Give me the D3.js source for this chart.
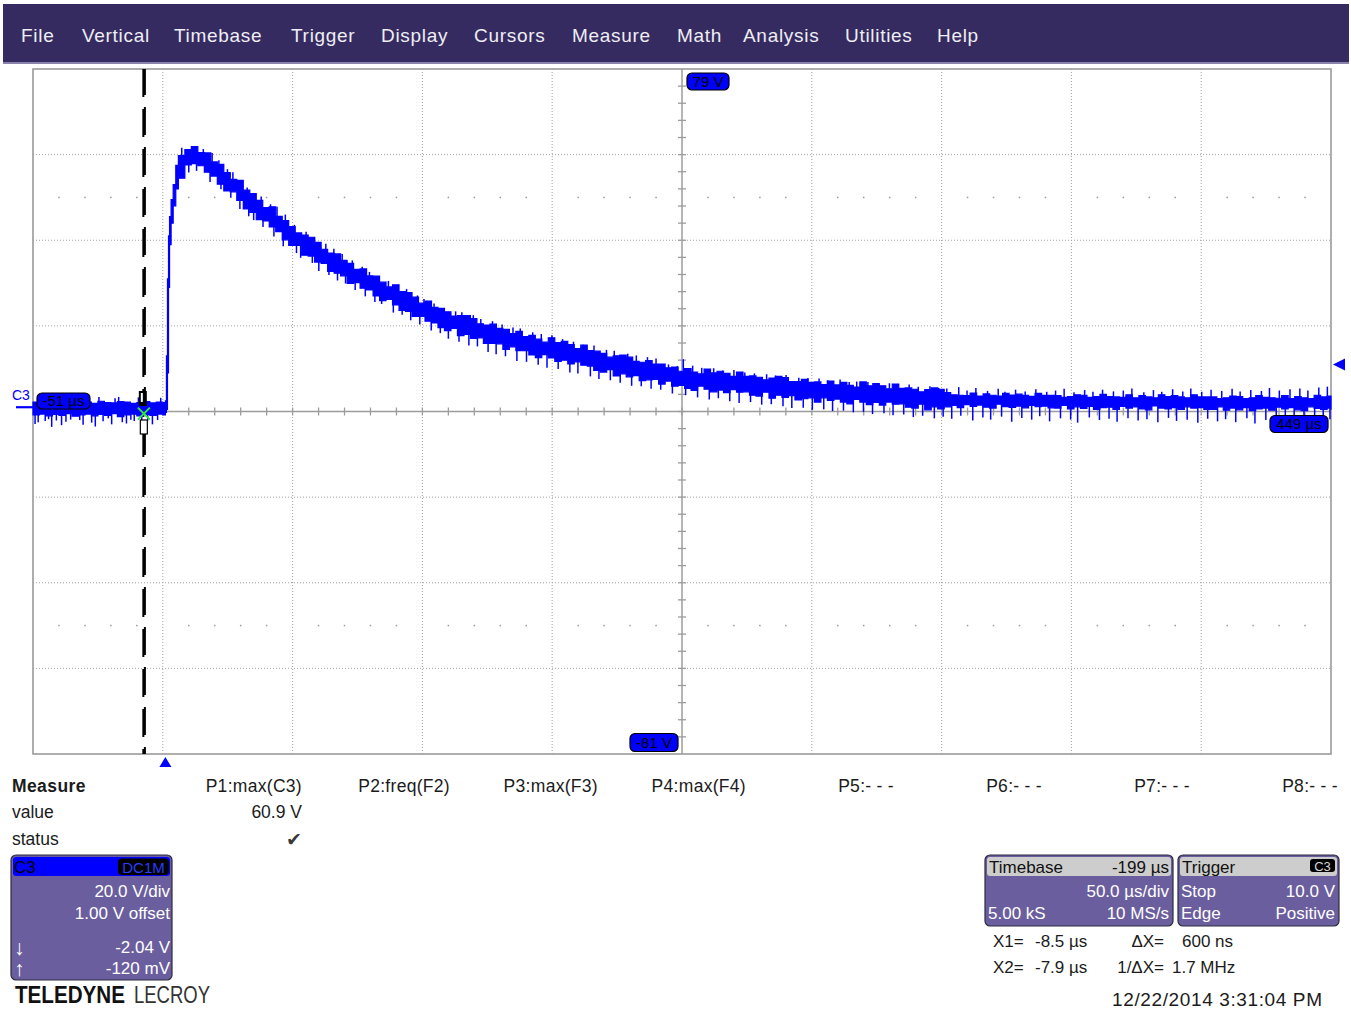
<!DOCTYPE html>
<html>
<head>
<meta charset="utf-8">
<script src="https://cdn.jsdelivr.net/npm/d3@7"></script>
<style>
  body { margin: 0; background: #fff; }
  svg { display: block; }
  text { font-family: "Liberation Sans", Arial, sans-serif; }
</style>
</head>
<body>
<svg id="scope" width="1351" height="1011"></svg>
<script>
// ---------------- data ----------------
const menuItems = ["File", "Vertical", "Timebase", "Trigger", "Display", "Cursors",
                   "Measure", "Math", "Analysis", "Utilities", "Help"];

const timeWindow = [-51, 449];          // µs at left / right edge of the grid
const voltWindow = [-81, 79];           // V at bottom / top edge of the grid
const timeEdgeLabels = ["-51 µs", "449 µs"];
const voltEdgeLabels = ["79 V", "-81 V"];
const triggerTime = 0;                  // µs
const triggerLevel = 10.0;              // V
const cursorTimes = [-8.5, -7.9];       // µs (X1, X2)
const channelZero = 0;                  // V, channel ground marker

// C3 trace envelope: [time µs, min V, max V]
const traceEnvelope = [
  [-51,-1.8,1.2],[-48.5,-1.6,1.0],[-46,-2.0,1.3],[-43.5,-1.7,0.9],[-41,-1.9,1.4],
  [-38.5,-1.5,1.1],[-36,-2.1,1.0],[-33.5,-1.8,1.3],[-31,-1.6,1.2],[-28.5,-2.0,0.9],
  [-26,-1.7,1.4],[-23.5,-1.9,1.1],[-21,-1.5,1.0],[-18.5,-2.2,1.3],[-16,-1.8,1.2],
  [-13.5,-1.6,0.9],[-11,-2.0,1.1],[-8.5,-1.7,1.3],[-6,-1.9,1.0],[-3.5,-1.6,1.2],
  [-1,-1.8,1.1],
  [0,-1.2,1.5],[0.4,-0.5,12],[0.8,8,30],[1.2,28,40],[1.6,38,44.5],[2.2,43,48.5],
  [3,47,52],[4,51,56.5],[5,53.5,58.8],
  [7.5,56.6,60.2],[10,56.9,60.9],[12.5,56.4,59.5],[15,54.9,59.4],[17.5,54.0,57.3],
  [20,52.1,56.7],[22.5,50.5,54.8],[25,50.3,53.2],[27.5,48.3,53.0],[30,46.3,50.7],
  [32.5,45.5,49.9],[35,43.8,48.3],[37.5,43.5,46.6],[40,42.1,46.8],[42.5,41.0,44.6],
  [45,39.1,43.6],[47.5,37.8,42.2],[50,37.8,40.7],[52.5,35.5,40.2],[55,35.3,39.7],
  [57.5,33.9,38.5],[60,33.6,36.9],[62.5,31.7,36.0],[65,31.3,35.8],[67.5,30.7,34.3],
  [70,28.9,33.6],[72.5,29.1,32.2],[75,27.8,32.3],[77.5,27.4,30.7],[80,26.0,30.6],
  [82.5,24.9,29.2],[85,25.2,28.1],[87.5,23.9,28.6],[90,22.6,27.0],[92.5,22.4,26.8],
  [95,21.2,25.7],[97.5,21.2,24.3],[100,20.1,24.8],[102.5,19.7,23.3],[105,18.6,23.1],
  [107.5,17.9,22.3],[110,18.4,21.3],[112.5,16.7,21.4],[115,17.0,21.4],[117.5,16.1,20.7],
  [120,16.2,19.5],[122.5,14.9,19.2],[125,14.9,19.4],[127.5,14.8,18.4],[130,13.5,18.2],
  [132.5,14.1,17.2],[135,13.2,17.7],[137.5,13.2,16.5],[140,12.2,16.8],[142.5,11.6,15.9],
  [145,12.3,15.2],[147.5,11.5,16.2],[150,10.7,15.1],[152.5,11.0,15.4],[155,10.1,14.6],
  [157.5,10.6,13.7],[160,9.8,14.5],[162.5,9.6,13.2],[165,8.6,13.1],[167.5,8.2,12.6],
  [170,8.8,11.7],[172.5,7.3,12.0],[175,7.8,12.2],[177.5,7.1,11.7],[180,7.4,10.7],
  [182.5,6.2,10.5],[185,6.4,10.9],[187.5,6.5,10.1],[190,5.4,10.1],[192.5,6.1,9.2],
  [195,4.9,9.4],[197.5,5.1,8.4],[200,4.4,9.0],[202.5,3.9,8.2],[205,4.9,7.8],
  [207.5,4.2,8.9],[210,3.6,8.0],[212.5,4.0,8.4],[215,3.4,7.9],[217.5,4.1,7.2],
  [220,3.5,8.2],[222.5,3.6,7.2],[225,2.8,7.3],[227.5,2.6,7.0],[230,3.5,6.4],
  [232.5,2.1,6.8],[235,2.8,7.2],[237.5,2.3,6.9],[240,2.7,6.0],[242.5,1.7,6.0],
  [245,2.0,6.5],[247.5,2.2,5.8],[250,1.2,5.9],[252.5,2.2,5.3],[255,1.6,6.1],
  [257.5,1.9,5.2],[260,1.2,5.8],[262.5,0.8,5.1],[265,1.8,4.7],[267.5,1.2,5.9],
  [270,0.6,5.0],[272.5,1.1,5.5],[275,0.5,5.0],[277.5,1.2,4.3],[280,0.7,5.4],
  [282.5,0.8,4.4],[285,0.0,4.5],[287.5,-0.2,4.2],[290,0.7,3.6],[292.5,-0.6,4.1],
  [295,0.1,4.5],[297.5,-0.4,4.2],[300,0.1,3.4],
  [302.5,0.4,2.9],[305,-0.1,2.8],[307.5,0.6,2.7],[310,0.2,3.3],[312.5,0.5,2.6],
  [315,0.0,3.1],[317.5,-0.2,2.8],[320,0.7,2.6],[322.5,0.15,3.25],[325,-0.05,2.85],
  [327.5,0.25,3.05],[330,-0.15,2.75],[332.5,0.45,2.55],[335,0.15,3.25],[337.5,0.25,2.75],
  [340,-0.15,2.75],[342.5,-0.2,2.7],[345,0.4,2.3],[347.5,-0.4,2.5],[350,0.1,2.9],
  [352.5,-0.3,2.8],[355,0.2,2.3],[357.5,-0.5,2.5],[360,-0.1,3.0],[362.5,0.0,2.5],
  [365,-0.5,2.4],[367.5,0.2,2.3],[370,-0.2,2.9],[372.5,0.1,2.2],[375,-0.4,2.7],
  [377.5,-0.6,2.4],[380,0.3,2.2],[382.5,-0.2,2.9],[385,-0.4,2.5],[387.5,-0.1,2.7],
  [390,-0.5,2.4],[392.5,0.1,2.2],[395,-0.2,2.9],[397.5,-0.1,2.4],[400,-0.5,2.4],
  [402.5,-0.5,2.4],[405,0.1,2.0],[407.5,-0.7,2.2],[410,-0.2,2.6],[412.5,-0.6,2.5],
  [415,-0.1,2.0],[417.5,-0.8,2.2],[420,-0.4,2.7],[422.5,-0.2,2.3],[425,-0.7,2.2],
  [427.5,0.0,2.1],[430,-0.4,2.7],[432.5,-0.1,2.0],[435,-0.6,2.5],[437.5,-0.8,2.2],
  [440,0.1,2.0],[442.5,-0.3,2.8],[445,-0.5,2.4],[447.5,-0.2,2.6],[449,-0.6,2.3]
];

// isolated noise spikes on the C3 trace: [time µs, tip V]
const traceSpikes = [
  [-50.2,-3.9],[-49,-3.5],[-47.6,2.3],[-46.3,-3.2],[-45,-2.8],[-43.8,-4.6],[-42,-3.1],[-41.2,2.0],
  [-40,-4.2],[-38.3,-3.4],[-36.5,-2.9],[-35.1,2.2],[-33,-3.0],[-31.7,-4.1],[-30,2.0],[-28.4,-3.6],
  [-27,-4.5],[-25.6,2.4],[-24,-3.3],[-22,-2.6],[-20.7,-4.0],[-19.4,2.1],[-18,2.4],[-16.6,-3.5],
  [-15,-3.8],[-13.3,-2.9],[-12,-3.2],[-10.4,2.3],[-9.1,-4.3],[-6.8,-3.1],[-5,-4.0],[-3,-3.0],[-1.8,2.2],
  [6.3,60.6],[9.0,54.8],[11.4,60.9],[12.0,55.2],[14.6,60.3],[17.2,52.6],[18.0,59.4],[20.6,57.7],
  [21.4,50.9],[23.9,55.6],[25.2,48.9],[26.0,54.9],[28.7,46.3],[29.4,52.1],[31.5,51.3],[32.1,44.6],
  [34.0,43.7],[36.9,49.2],[37.6,42.1],[40.5,47.4],[41.8,39.9],[43.0,46.8],[45.4,37.6],[46.2,45.0],
  [49.7,42.6],[50.5,36.0],[52.1,34.9],[54.2,41.0],[56.6,33.7],[57.4,39.6],[59.1,31.8],[61.8,38.2],
  [63.0,30.9],[64.9,37.0],[66.3,29.6],[68.1,35.8],[69.4,28.9],[72.0,34.3],[73.1,27.4],[75.8,32.8],
  [77.0,25.9],[78.6,31.6],[80.7,24.6],[82.2,30.5],[83.3,24.1],[85.9,29.5],[87.8,22.1],[89.4,28.5],
  [91.2,21.6],[92.9,27.6],[94.5,20.3],[97.1,26.1],[98.0,19.3],[99.6,25.3],[102.4,17.9],[103.5,24.2],
  [105.9,17.3],[107.3,23.2],[109.0,16.0],[111.8,22.4],[113.1,15.3],[114.2,22.2],[116.9,14.4],
  [118.6,21.5],[120.2,14.2],[121.5,20.6],[124.3,12.9],[126.0,20.1],[127.4,12.4],[129.7,19.3],
  [131.0,11.9],[133.9,18.6],[135.4,10.8],[136.7,18.4],[139.1,10.6],[141.5,17.5],[143.6,9.9],
  [144.8,17.1],[147.0,9.2],[148.9,16.8],[151.3,8.9],[153.0,15.9],[155.8,8.1],[157.2,15.3],
  [158.9,7.9],[161.0,14.6],[163.7,7.2],[165.1,14.4],[167.0,6.6],[169.9,13.4],[171.4,6.3],
  [172.9,13.2],[175.2,5.7],[178.1,12.5],[179.6,5.0],[181.4,12.1],[183.3,4.9],[185.7,11.7],
  [187.1,4.3],[189.0,11.4],[190.8,4.1],[193.8,10.0],[195.3,3.2],[197.2,9.6],[199.5,11.2],
  [200.4,2.8],[203.1,9.7],[205.0,2.3],[206.6,9.2],[209.5,1.8],[211.2,9.1],[213.0,2.1],[214.7,8.6],
  [217.4,1.4],[219.0,8.7],[221.0,1.0],[223.2,8.1],[225.4,1.2],[226.9,7.9],[229.7,0.6],[231.6,7.7],
  [233.4,0.7],[235.0,7.4],[237.9,0.2],[239.1,7.5],[241.3,-0.2],[244.0,6.9],[245.7,-0.1],[247.5,6.8],
  [249.2,-0.6],[251.8,6.7],[253.6,-0.5],[255.1,6.3],[257.0,-0.9],[259.9,6.5],[261.2,-0.8],[263.4,5.9],
  [265.0,-1.2],[266.3,6.0],[268.9,-1.1],[270.6,5.9],[272.4,-1.6],[274.1,5.5],[276.8,-1.4],[278.9,5.6],
  [280.3,-1.9],[282.0,5.2],[284.4,-1.7],[286.5,5.3],[288.1,-2.3],[290.0,4.8],[291.7,-2.0],[294.5,4.9],
  [296.2,-2.6],[297.9,4.5],[299.6,-2.2],
  [301.0,4.4],[302.9,-2.7],[305.6,4.7],[306.4,-2.0],[308.8,3.9],[311.0,-3.1],[312.2,4.5],[314.9,-2.4],
  [316.7,3.8],[317.9,-2.9],[320.8,4.3],[322.1,-2.2],[323.4,3.6],[326.0,-3.4],[327.5,4.1],[329.9,-2.5],
  [331.2,3.7],[333.7,-2.9],[335.3,4.2],[336.8,-2.1],[339.5,3.6],[340.6,-3.3],[342.9,3.9],[344.8,-2.6],
  [346.2,4.3],[348.7,-2.9],[350.0,3.5],[351.4,-3.6],[354.1,4.0],[355.9,-2.4],[357.3,3.6],[359.8,-3.0],
  [361.0,4.1],[363.5,-2.7],[365.2,3.7],[366.6,-3.4],[369.0,3.9],[370.8,-2.6],[372.3,4.4],[374.7,-3.1],
  [376.9,3.5],[378.1,-2.8],[380.6,4.0],[382.3,-3.5],[383.8,3.6],[386.4,-2.5],[388.0,4.2],[389.5,-3.2],
  [391.9,3.7],[393.6,-2.9],[395.0,4.4],[397.7,-3.6],[399.2,3.6],[401.5,-2.7],[402.8,4.1],[405.3,-3.3],
  [406.9,3.8],[408.4,-2.8],[410.9,4.3],[412.3,-3.5],[414.0,3.7],[416.6,-2.6],[418.1,4.0],[419.7,-3.8],
  [422.2,3.8],[423.9,-3.0],[425.3,4.5],[427.9,-2.7],[429.1,3.9],[431.4,-3.4],[433.2,4.2],[434.8,-2.9],
  [437.0,4.4],[438.6,-3.6],[440.1,3.9],[442.7,-3.0],[444.3,4.6],[446.0,-3.3],[447.6,4.8],[448.6,-2.8]
];

const measureHeaders = ["P1:max(C3)", "P2:freq(F2)", "P3:max(F3)", "P4:max(F4)",
                        "P5:- - -", "P6:- - -", "P7:- - -", "P8:- - -"];
const measureValues  = ["60.9 V", "", "", "", "", "", "", ""];
const measureStatus  = ["✔", "", "", "", "", "", "", ""];

const channelName = "C3";
const channelCoupling = "DC1M";
const channelScale = ["20.0 V/div", "1.00 V offset"];
const channelCursor = [["↓", "-2.04 V"], ["↑", "-120 mV"]];

const timebaseInfo = { title: "Timebase", delay: "-199 µs", scale: "50.0 µs/div",
                       samples: "5.00 kS", rate: "10 MS/s" };
const triggerInfo  = { title: "Trigger", source: "C3", mode: "Stop", level: "10.0 V",
                       type: "Edge", slope: "Positive" };
const cursorReadout = [["X1=", "-8.5 µs", "ΔX=", "600 ns"],
                       ["X2=", "-7.9 µs", "1/ΔX=", "1.7 MHz"]];
const timestamp = "12/22/2014 3:31:04 PM";

// ---------------- layout ----------------
const G = { left: 33, right: 1331, top: 69, bottom: 754 };
const HDIV = 10, VDIV = 8;
const BLUE = "#0000ff";
const GRID = "#a3a3a3";
const PANEL = "#6a5e9e";
const INK = "#1b1b1b";

const svg = d3.select("#scope");

// scales
const x = d3.scaleLinear().domain(timeWindow).range([G.left, G.right]);
const y = d3.scaleLinear().domain(voltWindow).range([G.bottom, G.top]);
const xd = d3.scaleLinear().domain([0, HDIV]).range([G.left, G.right]);
const yd = d3.scaleLinear().domain([0, VDIV]).range([G.top, G.bottom]);

// ---------------- menu bar ----------------
const menuX = [21, 82, 174, 291, 381, 474, 572, 677, 743, 845, 937];
svg.append("rect").attr("x", 3).attr("y", 4).attr("width", 1346).attr("height", 59)
  .attr("fill", "#362b61");
svg.append("rect").attr("x", 3).attr("y", 62).attr("width", 1346).attr("height", 2)
  .attr("fill", "#8a84ad");
svg.append("g").selectAll("text").data(menuItems).join("text")
  .attr("x", (d, i) => menuX[i]).attr("y", 42)
  .attr("fill", "#eeeef4").attr("font-size", 19).attr("letter-spacing", 0.7)
  .text(d => d);

// ---------------- grid ----------------
const grid = svg.append("g");
grid.selectAll("line.v").data(d3.range(1, HDIV).filter(i => i !== HDIV / 2)).join("line")
  .attr("x1", i => xd(i)).attr("x2", i => xd(i))
  .attr("y1", G.top).attr("y2", G.bottom)
  .attr("stroke", GRID).attr("stroke-width", 1).attr("stroke-dasharray", "1,2");
grid.selectAll("line.h").data(d3.range(1, VDIV).filter(i => i !== VDIV / 2)).join("line")
  .attr("y1", i => yd(i)).attr("y2", i => yd(i))
  .attr("x1", G.left).attr("x2", G.right)
  .attr("stroke", GRID).attr("stroke-width", 1).attr("stroke-dasharray", "1,2");

// dotted sub-division rows
[1.5, VDIV - 1.5].forEach(r => {
  grid.selectAll(null).data(d3.range(1, HDIV * 5).filter(i => i % 5 !== 0)).join("rect")
    .attr("x", i => xd(i / 5) - 0.75).attr("y", yd(r) - 0.75)
    .attr("width", 1.5).attr("height", 1.5).attr("fill", "#9a9a9a");
});

// center cross with minor ticks
const cx = xd(HDIV / 2), cy = yd(VDIV / 2);
grid.append("line").attr("x1", G.left).attr("x2", G.right).attr("y1", cy).attr("y2", cy)
  .attr("stroke", "#9c9c9c").attr("stroke-width", 1.5);
grid.append("line").attr("x1", cx).attr("x2", cx).attr("y1", G.top).attr("y2", G.bottom)
  .attr("stroke", "#9c9c9c").attr("stroke-width", 1.5);
grid.selectAll(null).data(d3.range(1, HDIV * 5)).join("line")
  .attr("x1", i => xd(i / 5)).attr("x2", i => xd(i / 5))
  .attr("y1", cy - 4).attr("y2", cy + 4)
  .attr("stroke", "#9c9c9c").attr("stroke-width", 1.3);
grid.selectAll(null).data(d3.range(1, VDIV * 5)).join("line")
  .attr("y1", i => yd(i / 5)).attr("y2", i => yd(i / 5))
  .attr("x1", cx - 4).attr("x2", cx + 4)
  .attr("stroke", "#9c9c9c").attr("stroke-width", 1.3);

// border
svg.append("rect").attr("x", G.left).attr("y", G.top)
  .attr("width", G.right - G.left).attr("height", G.bottom - G.top)
  .attr("fill", "none").attr("stroke", "#9a9a9a").attr("stroke-width", 1.6);

// ---------------- cursor lines ----------------
const curLines = svg.append("g");
cursorTimes.forEach((t, i) => {
  curLines.append("line").attr("x1", x(t)).attr("x2", x(t))
    .attr("y1", G.top).attr("y2", G.bottom)
    .attr("stroke", "#000").attr("stroke-width", 2)
    .attr("stroke-dasharray", "28,12").attr("stroke-dashoffset", i * 2);
});

// ---------------- C3 trace ----------------
const band = d3.area()
  .x(d => x(d[0])).y0(d => y(d[1])).y1(d => y(d[2]))
  .curve(d3.curveStepAfter);
svg.append("path").datum(traceEnvelope).attr("d", band)
  .attr("fill", BLUE).attr("stroke", BLUE).attr("stroke-width", 1.2);

const bis = d3.bisector(d => d[0]).left;
svg.append("g").selectAll("line").data(traceSpikes).join("line")
  .attr("x1", d => x(d[0])).attr("x2", d => x(d[0]))
  .attr("y1", d => {
    const e = traceEnvelope[Math.max(0, bis(traceEnvelope, d[0]) - 1)];
    return y((e[1] + e[2]) / 2);
  })
  .attr("y2", d => y(d[1]))
  .attr("stroke", BLUE).attr("stroke-width", 1.5);

// cursor markers drawn over the trace
const curMarks = svg.append("g");
const cX = x(cursorTimes[0]);
curMarks.append("rect").attr("x", cX - 4.5).attr("y", 391).attr("width", 8).attr("height", 15)
  .attr("fill", "#000");
curMarks.append("rect").attr("x", cX - 2.5).attr("y", 393).attr("width", 2).attr("height", 9)
  .attr("fill", "#fff");
curMarks.append("rect").attr("x", cX - 3).attr("y", 420).attr("width", 7).attr("height", 14)
  .attr("fill", "#fff").attr("stroke", "#000").attr("stroke-width", 1.2);
const gx = x(cursorTimes[1]) - 1, gy = y(-1.5);
curMarks.append("path")
  .attr("d", `M${gx - 6},${gy - 6}L${gx + 6},${gy + 6}M${gx + 6},${gy - 6}L${gx - 6},${gy + 6}`)
  .attr("stroke", "#33e633").attr("stroke-width", 2);

// ---------------- edge markers / labels ----------------
function tag(cxp, cyp, w, h, label) {
  const g = svg.append("g");
  g.append("rect").attr("x", cxp - w / 2).attr("y", cyp - h / 2)
    .attr("width", w).attr("height", h).attr("rx", 5)
    .attr("fill", BLUE).attr("stroke", "#000").attr("stroke-width", 1.2);
  g.append("text").attr("x", cxp).attr("y", cyp + 5).attr("text-anchor", "middle")
    .attr("font-size", 15).attr("fill", "#000").text(label);
}
tag(63.5, 401, 53, 16, timeEdgeLabels[0]);
tag(1299, 424, 58, 17, timeEdgeLabels[1]);
tag(708, 81.5, 42, 17, voltEdgeLabels[0]);
tag(654, 742.5, 48, 18, voltEdgeLabels[1]);

// channel ground marker
svg.append("text").attr("x", 12).attr("y", 400).attr("fill", BLUE)
  .attr("font-size", 14).text(channelName);
svg.append("line").attr("x1", 16).attr("x2", G.left).attr("y1", y(channelZero)).attr("y2", y(channelZero))
  .attr("stroke", BLUE).attr("stroke-width", 2.2);

// trigger level marker (right) and trigger time marker (bottom)
const tl = y(triggerLevel);
svg.append("path").attr("d", `M1333,${tl}L1345,${tl - 6}L1345,${tl + 6}Z`).attr("fill", BLUE);
const tt = x(triggerTime);
svg.append("path").attr("d", `M${tt},757L${tt - 6},767L${tt + 6},767Z`).attr("fill", BLUE);

// ---------------- measurement table ----------------
const mt = svg.append("g").attr("font-size", 17.5).attr("fill", INK);
mt.append("text").attr("x", 12).attr("y", 792).attr("font-weight", "bold")
  .attr("letter-spacing", 0.4).text("Measure");
mt.append("text").attr("x", 12).attr("y", 818).text("value");
mt.append("text").attr("x", 12).attr("y", 845).text("status");
const colRight = i => 302 + 148 * i;
mt.selectAll(null).data(measureHeaders).join("text")
  .attr("x", (d, i) => colRight(i)).attr("y", 792).attr("text-anchor", "end")
  .attr("letter-spacing", 0.3).text(d => d);
mt.selectAll(null).data(measureValues).join("text")
  .attr("x", (d, i) => colRight(i)).attr("y", 818).attr("text-anchor", "end").text(d => d);
mt.selectAll(null).data(measureStatus).join("text")
  .attr("x", (d, i) => colRight(i)).attr("y", 846).attr("text-anchor", "end")
  .attr("font-family", "DejaVu Sans").attr("font-size", 19).attr("fill", "#3a3a3a").text(d => d);

// ---------------- channel descriptor box ----------------
const cb = svg.append("g");
cb.append("rect").attr("x", 11).attr("y", 855).attr("width", 161).attr("height", 125).attr("rx", 5)
  .attr("fill", PANEL).attr("stroke", "#2c2c3c").attr("stroke-width", 1.2);
cb.append("rect").attr("x", 13).attr("y", 857).attr("width", 157).attr("height", 19).attr("rx", 3)
  .attr("fill", BLUE);
cb.append("text").attr("x", 14).attr("y", 873).attr("font-size", 17).attr("fill", "#000").text(channelName);
cb.append("rect").attr("x", 118).attr("y", 858.5).attr("width", 51).attr("height", 16.5).attr("rx", 4)
  .attr("fill", "#000");
cb.append("text").attr("x", 143.5).attr("y", 872.5).attr("text-anchor", "middle")
  .attr("font-size", 15).attr("fill", "#2a3cff").text(channelCoupling);
cb.selectAll(null).data(channelScale).join("text")
  .attr("x", 170).attr("y", (d, i) => 897 + 22 * i).attr("text-anchor", "end")
  .attr("font-size", 17).attr("fill", "#fff").text(d => d);
channelCursor.forEach((c, i) => {
  cb.append("text").attr("x", 14).attr("y", 955 + 21 * i).attr("font-size", 21)
    .attr("fill", "#fff").text(c[0]);
  cb.append("text").attr("x", 170).attr("y", 953 + 21 * i).attr("text-anchor", "end")
    .attr("font-size", 17).attr("fill", "#fff").text(c[1]);
});

// logo
svg.append("text").attr("x", 15).attr("y", 1003).attr("font-size", 24).attr("font-weight", "bold")
  .attr("fill", "#111").attr("textLength", 110).attr("lengthAdjust", "spacingAndGlyphs").text("TELEDYNE");
svg.append("text").attr("x", 134).attr("y", 1003).attr("font-size", 24)
  .attr("fill", "#333").attr("textLength", 76).attr("lengthAdjust", "spacingAndGlyphs").text("LECROY");

// ---------------- timebase / trigger boxes ----------------
function infoBox(x0, w, title, head, rows) {
  const g = svg.append("g");
  g.append("rect").attr("x", x0).attr("y", 855).attr("width", w).attr("height", 71).attr("rx", 5)
    .attr("fill", PANEL).attr("stroke", "#2c2c3c").attr("stroke-width", 1.2);
  g.append("rect").attr("x", x0 + 2).attr("y", 857).attr("width", w - 4).attr("height", 19).attr("rx", 3)
    .attr("fill", "#cdcdcd");
  g.append("text").attr("x", x0 + 4).attr("y", 873).attr("font-size", 17).attr("fill", "#111").text(title);
  if (head.box) {
    g.append("rect").attr("x", x0 + w - 29).attr("y", 859).attr("width", 25).attr("height", 13).attr("rx", 3)
      .attr("fill", "#000");
    g.append("text").attr("x", x0 + w - 16.5).attr("y", 870.5).attr("text-anchor", "middle")
      .attr("font-size", 13).attr("fill", "#d8d8d8").text(head.text);
  } else {
    g.append("text").attr("x", x0 + w - 4).attr("y", 873).attr("text-anchor", "end")
      .attr("font-size", 17).attr("fill", "#111").text(head.text);
  }
  rows.forEach((r, i) => {
    if (r[0]) g.append("text").attr("x", x0 + 3).attr("y", 897 + 22 * i).attr("font-size", 17)
      .attr("fill", "#fff").text(r[0]);
    g.append("text").attr("x", x0 + w - 4).attr("y", 897 + 22 * i).attr("text-anchor", "end")
      .attr("font-size", 17).attr("fill", "#fff").text(r[1]);
  });
}
infoBox(985, 188, timebaseInfo.title, { text: timebaseInfo.delay },
  [["", timebaseInfo.scale], [timebaseInfo.samples, timebaseInfo.rate]]);
infoBox(1178, 161, triggerInfo.title, { text: triggerInfo.source, box: true },
  [[triggerInfo.mode, triggerInfo.level], [triggerInfo.type, triggerInfo.slope]]);

// cursor readout
cursorReadout.forEach((r, i) => {
  const yy = 947 + 26 * i;
  const g = svg.append("g").attr("font-size", 17).attr("fill", INK);
  g.append("text").attr("x", 993).attr("y", yy).text(r[0]);
  g.append("text").attr("x", 1035).attr("y", yy).text(r[1]);
  g.append("text").attr("x", 1164).attr("y", yy).attr("text-anchor", "end").text(r[2]);
  g.append("text").attr("x", i === 0 ? 1182 : 1172).attr("y", yy).text(r[3]);
});

svg.append("text").attr("x", 1112).attr("y", 1006).attr("font-size", 19).attr("fill", INK)
  .attr("textLength", 210).text(timestamp);
</script>
</body>
</html>
